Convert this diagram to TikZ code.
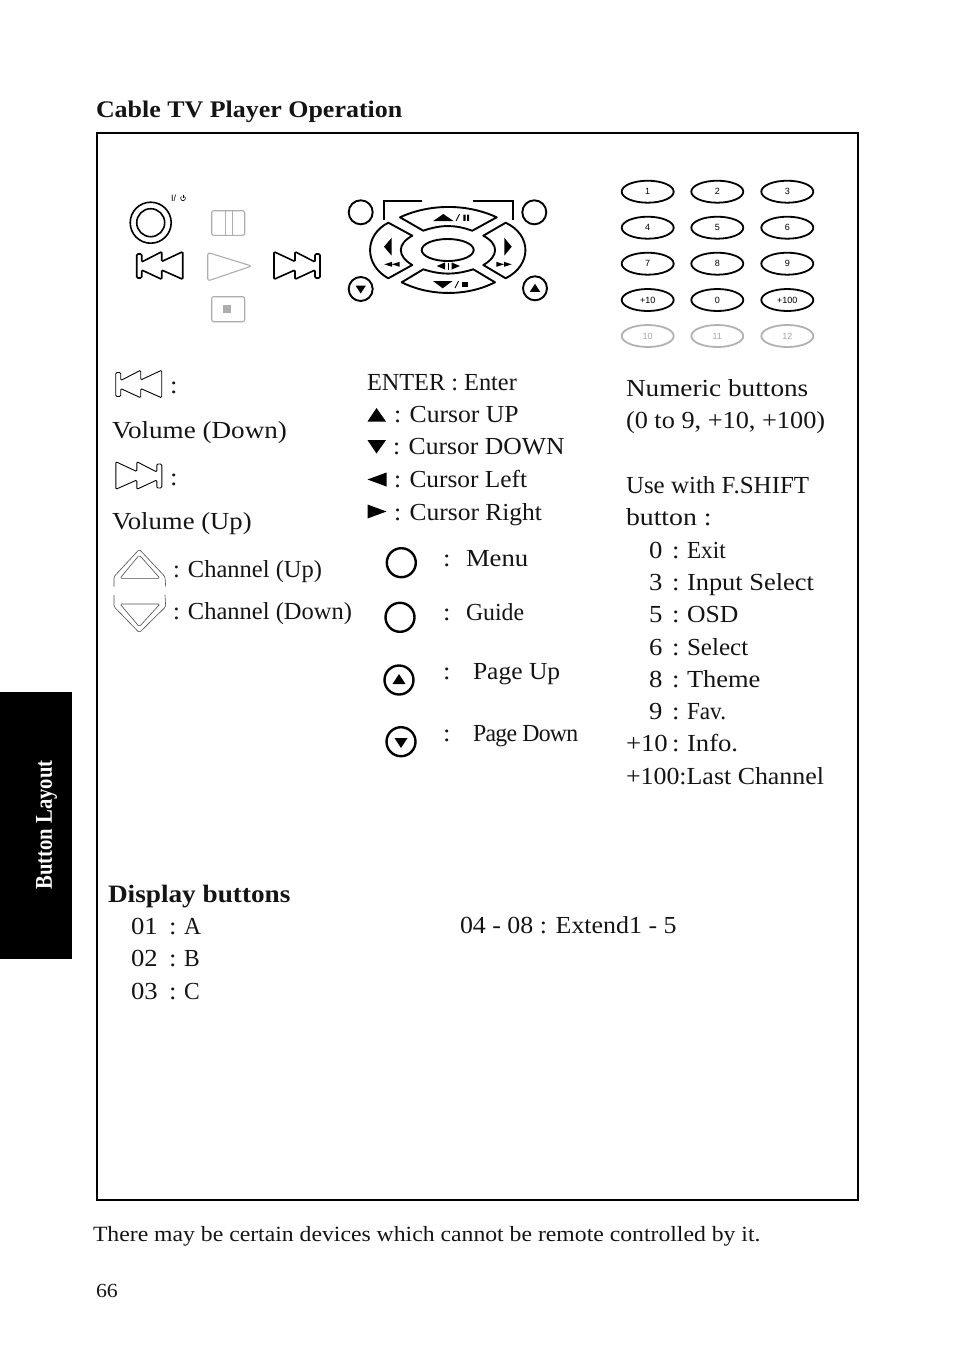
\documentclass[tikz,border=0pt]{standalone}
\usepackage{graphicx}
\usepackage{fontspec}
\setmainfont{Liberation Serif}[FakeStretch=1.09]
\newfontfamily\plainserif{Liberation Serif}
\newfontfamily\numfont{Liberation Sans}
\newcommand{\bodyfont}{\fontsize{24.5}{30}\selectfont}
\newcommand{\sx}[2]{\scalebox{#1}[1]{#2}}
\tikzset{
  txt/.style={anchor=base west,inner sep=0pt,outer sep=0pt,font=\bodyfont,text=black!92},
  head/.style={txt,font=\fontsize{25}{30}\selectfont\bfseries},
  chan/.style={txt,font=\plainserif\fontsize{24.5}{30}\selectfont},
  numbtn/.style={ellipse,draw,line width=1.8pt,minimum width=52pt,minimum height=22pt,inner sep=0pt,font=\numfont\fontsize{9}{10}\selectfont},
  greybtn/.style={numbtn,draw=black!30,text=black!35},
  ghost/.style={draw=black!32,line width=1.1pt,rounded corners=1.5pt},
  ring/.style={circle,draw,line width=2.4pt,inner sep=0pt,minimum size=#1},
  keyshape/.style={draw,line width=1.9pt,line join=round},
  thin icon/.style={draw=black!70,line width=.6pt,rounded corners=1.5pt},
  rew/.pic={
    \path[pic actions,rounded corners=1.2pt] (0.7,3) -- (0.7,27) -- (5.7,27) -- (5.7,19) -- (25.7,28.3) -- (25.7,19)
      -- (46.7,28.3) -- (46.7,0.7) -- (25.7,10.5) -- (25.7,0.7) -- (5.7,11) -- (5.7,3) -- cycle;
  }
}
\usetikzlibrary{shapes.geometric}
\begin{document}
\begin{tikzpicture}[x=1pt,y=-1pt]
\useasboundingbox (0,0) rectangle (954,1345);

% sidebar and frame
\fill[black] (0,692) rectangle (72,959);
\node[rotate=90,text=white,font=\fontsize{24}{28}\selectfont\bfseries,inner sep=0pt] (side) at (46.5,825) {\sx{.79}{Button Layout}};
\draw[line width=1.6pt] (97,133) rectangle (858,1200);
\node[head,font=\fontsize{23.8}{30}\selectfont\bfseries] (title) at (96,117) {Cable TV Player Operation};

% transport group
\node[circle,draw,line width=1.6pt,minimum size=41pt,inner sep=0pt] (power) at (150.7,222.7) {};
\node[circle,draw,line width=1.6pt,minimum size=28pt,inner sep=0pt] (powerin) at (150.7,222.7) {};
\node[anchor=base west,inner sep=0pt,font=\numfont\fontsize{9}{10}\selectfont] (powerlab) at (171,201.5) {I/};
\draw[line width=.6pt] (184.54,196.46) arc[start angle=-50,end angle=230,radius=2.4];
\draw[line width=.6pt] (183,194.5) -- (183,198.3);
\pic[draw=black,line width=1.6pt] at (136,251) {rew};
\pic[draw=black,line width=1.6pt,xscale=-1] at (320.7,251) {rew};
\draw[ghost,rounded corners=2.5pt] (207.7,252.5) -- (251.7,266) -- (207.7,281) -- cycle;
\draw[ghost,rounded corners=2pt] (211.7,210.7) rectangle (244.7,235.3);
\draw[draw=black!32,line width=1.1pt] (225.7,210.7) -- (225.7,235.3) (232.7,210.7) -- (232.7,235.3);
\draw[ghost,rounded corners=2pt] (211.7,296.7) rectangle (244.7,321.7);
\fill[black!32] (223.3,305) rectangle (230.7,312.7);

% direction pad
\node[circle,draw,line width=1.9pt,minimum size=24pt,inner sep=0pt] (menuk) at (360.7,212.3) {};
\node[circle,draw,line width=1.9pt,minimum size=24pt,inner sep=0pt] (guidek) at (534.3,212.3) {};
\node[circle,draw,line width=1.9pt,minimum size=24pt,inner sep=0pt] (pgdnk) at (360.7,289) {};
\node[circle,draw,line width=1.9pt,minimum size=24pt,inner sep=0pt] (pgupk) at (535,288.3) {};
\fill (355.5,285.5) -- (365.9,285.5) -- (360.7,293.5) -- cycle;
\fill (529.8,291.8) -- (540.2,291.8) -- (535,283.8) -- cycle;
\draw[line width=2.1pt] (384.3,220) -- (384.3,201) -- (422.3,201);
\draw[line width=2.1pt] (473.3,201) -- (513.3,201) -- (513.3,220);
\draw[keyshape] (400,217.3) .. controls (430,203.5) and (467,203.5) .. (496.7,217.3) -- (472.3,230.7)
  .. controls (455,224.5) and (441,224.5) .. (423.3,230.7) -- cycle;
\draw[keyshape] (401.7,282.3) .. controls (430,296.5) and (467,296.5) .. (495,282.3) -- (473.3,269.3)
  .. controls (455,275) and (441,275) .. (423.3,269.3) -- cycle;
\draw[keyshape] (388.3,222.7) -- (412.3,235.7) .. controls (397,244) and (397,256) .. (412.3,265) -- (388.3,278.3)
  .. controls (364,265) and (364,235) .. (388.3,222.7) -- cycle;
\draw[keyshape] (505.7,222.7) -- (483.3,235.7) .. controls (499,244) and (499,256) .. (483.3,265) -- (505.7,278.3)
  .. controls (532,265) and (532,235) .. (505.7,222.7) -- cycle;
\node[ellipse,draw,line width=1.9pt,minimum width=52pt,minimum height=22pt,inner sep=0pt] (enterk) at (447.7,250) {};
\fill (384,246.7) -- (391.7,237.7) -- (391.7,255.7) -- cycle;
\fill (511.7,246.7) -- (504.3,237.7) -- (504.3,255.7) -- cycle;
\fill (384.3,264.3) -- (392,261.8) -- (392,266.8) -- cycle (392,264.3) -- (399.7,261.8) -- (399.7,266.8) -- cycle;
\fill (511.7,264.3) -- (504,261.8) -- (504,266.8) -- cycle (504,264.3) -- (496.3,261.8) -- (496.3,266.8) -- cycle;
\fill (436.7,266) -- (445,262.5) -- (445,269.5) -- cycle (460,266) -- (451.7,262.5) -- (451.7,269.5) -- cycle;
\draw[line width=.9pt] (448.3,262.5) -- (448.3,269.5);
\fill (443.3,214) -- (453.5,221) -- (433.2,221) -- cycle;
\draw[line width=.9pt] (456,221) -- (459.5,214);
\fill (463.3,214.5) rectangle (465.5,220.8) (467,214.5) rectangle (469.2,220.8);
\fill (442.7,288.3) -- (452.5,281) -- (433,281) -- cycle;
\draw[line width=.9pt] (455,288) -- (458.5,281);
\fill (461.7,281.7) rectangle (467.7,287.3);

% numeric keys
\foreach \lab/\nx/\ny/\xx/\yy in {1/a/1/647.7/191.7,2/b/1/717.3/191.7,3/c/1/787.3/191.7,
  4/a/2/647.7/227.7,5/b/2/717.3/227.7,6/c/2/787.3/227.7,
  7/a/3/647.7/263.7,8/b/3/717.3/263.7,9/c/3/787.3/263.7,
  +10/a/4/647.7/300,0/b/4/717.3/300,+100/c/4/787.3/300}{
  \node[numbtn] (num\nx\ny) at (\xx,\yy) {\lab};
}
\node[greybtn] (numa5) at (647.7,336) {10};
\node[greybtn] (numb5) at (717.3,336) {11};
\node[greybtn] (numc5) at (787.3,336) {12};

% left legend
\pic[draw=black,line width=.9pt] at (115,369.5) {rew};
\node[txt] (c1) at (170,393) {:};
\node[txt] (voldown) at (112,438) {\sx{1.015}{Volume (Down)}};
\pic[draw=black,line width=.9pt,xscale=-1] at (162.5,461) {rew};
\node[txt] (c2) at (170,485) {:};
\node[txt] (volup) at (112,529) {Volume (Up)};
\draw[thin icon] (114,586.7) -- (114,576.7) -- (139.3,549.3) -- (165,576.7) -- (165.7,586.7);
\draw[thin icon] (139.3,555) -- (160,578.3) -- (120,578.3) -- cycle;
\draw[thin icon] (114,595) -- (114,606.7) -- (139.3,632.7) -- (165.7,606.7) -- (165,595);
\draw[thin icon] (120,604) -- (160,604) -- (139.3,626.7) -- cycle;
\node[chan] (chup) at (173,577) {: Channel (Up)};
\node[chan] (chdn) at (173,619) {: Channel (Down)};

% centre legend
\node[txt] (enter) at (367,390) {\sx{.91}{ENTER : Enter}};
\fill (376.5,408) -- (386,421.5) -- (367.5,421.5) -- cycle;
\node[txt] (cup) at (394,422) {\sx{.96}{: Cursor UP}};
\fill (376.5,453.5) -- (386,440) -- (367.5,440) -- cycle;
\node[txt] (cdown) at (393,454) {\sx{.96}{: Cursor DOWN}};
\fill (367.5,479.5) -- (386.5,472.5) -- (386.5,486.5) -- cycle;
\node[txt] (cleft) at (394,487) {\sx{.95}{: Cursor Left}};
\fill (386.5,511.5) -- (367.5,504.5) -- (367.5,518.5) -- cycle;
\node[txt] (cright) at (394,520) {\sx{.955}{: Cursor Right}};
\node[ring=29pt] (lmenu) at (401.3,562.7) {};
\node[txt] (cm) at (443,566) {:};
\node[txt] (tmenu) at (466,566) {Menu};
\node[ring=29pt] (lguide) at (400,617.3) {};
\node[txt] (cg) at (443,620) {:};
\node[txt] (tguide) at (466,620) {\sx{.89}{Guide}};
\node[ring=29pt] (lpgup) at (399,680) {};
\fill (399,674) -- (405.5,684) -- (392.5,684) -- cycle;
\node[txt] (cpu) at (443,679) {:};
\node[txt] (tpgup) at (473,679) {\sx{.956}{Page Up}};
\node[ring=29pt] (lpgdn) at (401,741.7) {};
\fill (401,748) -- (407.5,738) -- (394.5,738) -- cycle;
\node[txt] (cpd) at (443,741) {:};
\node[chan] (tpgdn) at (473,741) {\sx{.97}{\addfontfeature{LetterSpace=-3}Page Down}};

% right legend
\node[txt] (r1) at (626,396) {\sx{1.02}{Numeric buttons}};
\node[txt] (r2) at (626,428) {\sx{.985}{(0 to 9, +10, +100)}};
\node[txt] (r3) at (626,493) {\sx{.935}{Use with F.SHIFT}};
\node[txt] (r4) at (626,525) {\sx{1.04}{button :}};
\foreach \id/\kk/\vv/\sc/\yy in {a/0/Exit/.87/558,b/3/Input Select/.99/590,c/5/OSD/.96/622,d/6/Select/.94/655,e/8/Theme/.99/687,f/9/Fav./.87/719}{
  \node[txt] (rk\id) at (649,\yy) {\kk};
  \node[txt] (rc\id) at (672,\yy) {:};
  \node[txt] (rv\id) at (687,\yy) {\sx{\sc}{\vv}};
}
\node[txt] (rkg) at (626,751) {+10};
\node[txt] (rcg) at (672,751) {:};
\node[txt] (rvg) at (687,751) {Info.};
\node[txt] (rh) at (626,784) {\sx{.97}{+100:Last Channel}};

% display buttons
\node[head] (disp) at (108,902) {Display buttons};
\foreach \id/\kk/\vv/\yy in {a/01/A/934,b/02/B/966,c/03/C/999}{
  \node[txt] (dk\id) at (131,\yy) {\kk};
  \node[txt] (dc\id) at (169,\yy) {:};
  \node[txt] (dv\id) at (184,\yy) {\sx{.88}{\vv}};
}
\node[txt] (ext) at (460,933) {\sx{.97}{04 - 08 : Extend1 - 5}};

% footer
\node[txt,font=\fontsize{21.75}{25}\selectfont] (foot) at (93,1241.5) {There may be certain devices which cannot be remote controlled by it.};
\node[txt,font=\fontsize{20}{24}\selectfont] (page) at (96,1297) {66};
\end{tikzpicture}
\end{document}
